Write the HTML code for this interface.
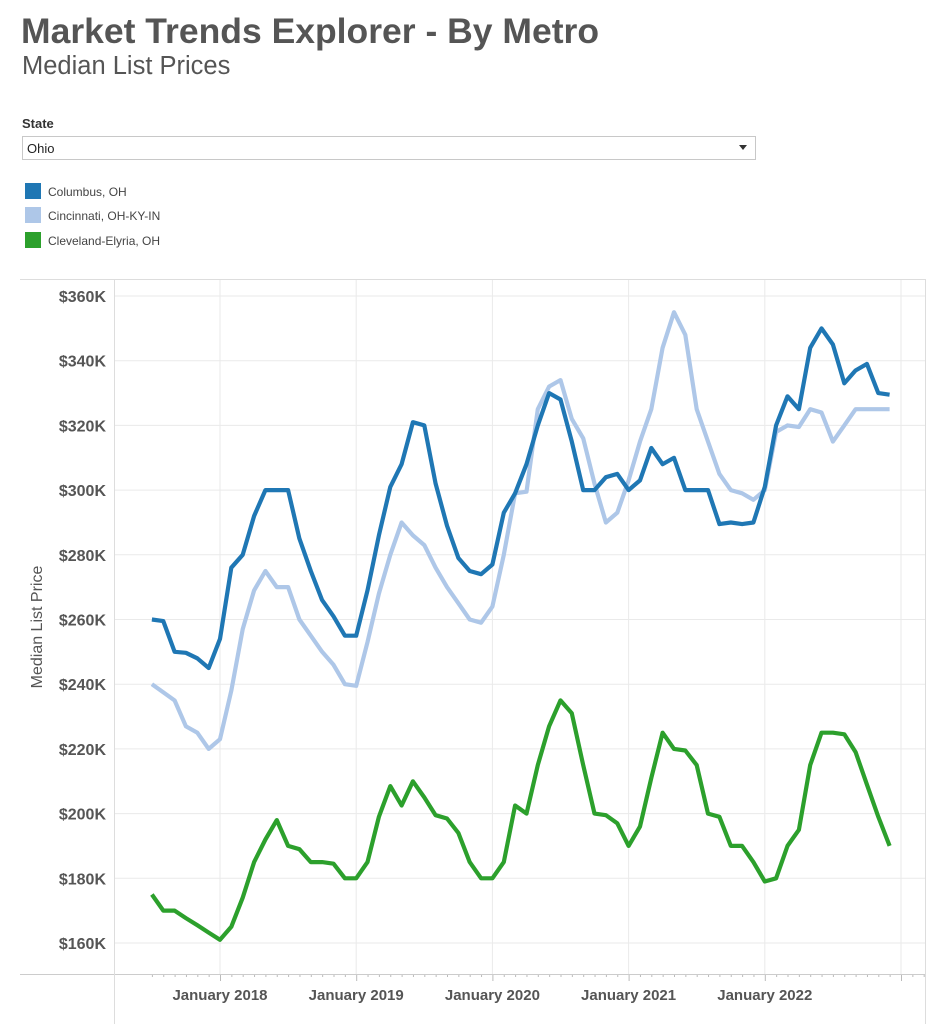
<!DOCTYPE html>
<html><head><meta charset="utf-8"><style>
body{margin:0;background:#fff;font-family:"Liberation Sans",Arial,sans-serif;}
</style></head><body>
<svg width="948" height="1024" xmlns="http://www.w3.org/2000/svg" style="display:block">
<text x="21" y="43" font-size="35.5" font-weight="bold" fill="#555">Market Trends Explorer - By Metro</text>
<text x="22" y="74" font-size="25.5" fill="#555">Median List Prices</text>
<text x="22" y="128" font-size="13" font-weight="bold" fill="#333">State</text>
<rect x="22.5" y="136.5" width="733" height="23" fill="#fff" stroke="#c8c8c8"/>
<text x="27" y="153" font-size="13" fill="#222">Ohio</text>
<path d="M739 145 l8 0 l-4 5z" fill="#333"/>
<rect x="25" y="183" width="16" height="16" fill="#1f77b4"/>
<rect x="25" y="207" width="16" height="16" fill="#aec7e8"/>
<rect x="25" y="232" width="16" height="16" fill="#2ca02c"/>
<text x="48" y="196" font-size="12" fill="#444">Columbus, OH</text>
<text x="48" y="220" font-size="12" fill="#444">Cincinnati, OH-KY-IN</text>
<text x="48" y="245" font-size="12" fill="#444">Cleveland-Elyria, OH</text>
<g id="grid" stroke="#eaeaea" stroke-width="1"></g>
<line x1="20" y1="279.5" x2="925" y2="279.5" stroke="#ddd"/>
<line x1="20" y1="974.5" x2="925" y2="974.5" stroke="#ccc"/>
<line x1="114.5" y1="279" x2="114.5" y2="1024" stroke="#ddd"/>
<line x1="925.5" y1="279" x2="925.5" y2="1024" stroke="#ddd"/>
<g id="ylab" font-size="16" font-weight="bold" fill="#555" text-anchor="end"></g>
<g id="xlab" font-size="15" font-weight="bold" fill="#555" text-anchor="middle"></g>
<text transform="translate(42,627) rotate(-90)" font-size="16" fill="#555" text-anchor="middle">Median List Price</text>
<g id="lines" fill="none" stroke-width="4.2" stroke-linejoin="round"></g>
</svg>
<script>
var ns="http://www.w3.org/2000/svg";
function el(p,t,a,txt){var e=document.createElementNS(ns,t);for(var k in a)e.setAttribute(k,a[k]);if(txt)e.textContent=txt;document.getElementById(p).appendChild(e);}
function Y(v){return 296+(360-v)*3.235;}
function X(m){return 220+(m-6)*11.35;}
for(var v=160;v<=360;v+=20){var y=Y(v);el("grid","line",{x1:115,x2:925,y1:y,y2:y});el("ylab","text",{x:106,y:y+6},"$"+v+"K");}
var yrs=[2018,2019,2020,2021,2022,2023];
for(var i=0;i<6;i++){var x=220+i*136.2;el("grid","line",{x1:x,x2:x,y1:280,y2:974});if(i<5)el("xlab","text",{x:x,y:1000},"January "+yrs[i]);}
for(var m=0;m<=68;m++){var x=X(m)+0.5;el("grid","line",{x1:x,x2:x,y1:975,y2:(m-6)%12==0?981:977,stroke:"#bbb"});}
var col=[260,259.5,250,249.7,248,245,254,276,280,292,300,300,300,285,275,266,261,255,255,269,286,301,308,321,320,302,289,279,275,274,277,293,299,308,320,330,328,315,300,300,304,305,300,303,313,308,310,300,300,300,289.5,290,289.5,290,301,320,329,325,344,350,345,333,337,339,330,329.5];
var cin=[240,237.5,235,227,225,220,223,238,257,269,275,270,270,260,255,250,246,240,239.5,253,268,280,290,286,283,276,270,265,260,259,264,280,299,299.5,325,332,334,322,316,302,290,293,303,315,325,344,355,348,325,315,305,300,299,297,300,318,320,319.5,325,324,315,320,325,325,325,325];
var cle=[175,170,170,167.7,165.5,163.2,161,165,174,185,192,198,190,189,185,185,184.5,180,180,185,199,208.5,202.5,210,205,199.5,198.5,194,185,180,180,185,202.5,200,215,227,235,231,215,200,199.5,197,190,196,211,225,220,219.5,215,200,199,190,190,185,179,180,190,195,215,225,225,224.5,219,209,199,190];
[[cin,"#aec7e8"],[col,"#1f77b4"],[cle,"#2ca02c"]].forEach(function(s){var p=s[0].map(function(v,i){return X(i).toFixed(1)+","+Y(v).toFixed(1)}).join(" ");el("lines","polyline",{points:p,stroke:s[1]});});
</script>
</body></html>
